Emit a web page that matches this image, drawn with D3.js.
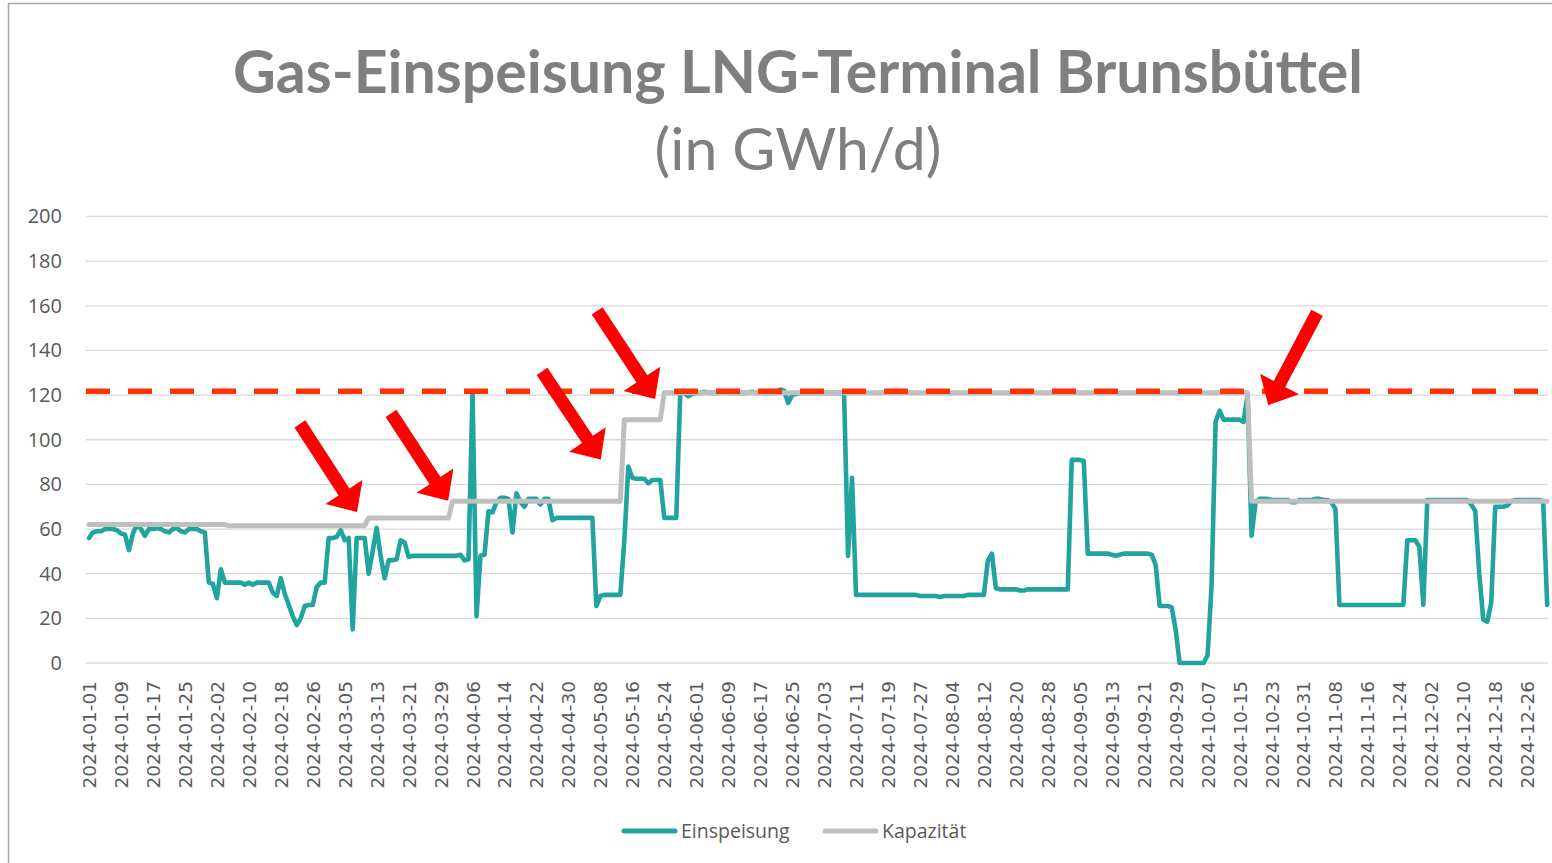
<!DOCTYPE html>
<html>
<head>
<meta charset="utf-8">
<script src="https://cdn.jsdelivr.net/npm/d3@7"></script>
<style>
  html, body { margin: 0; padding: 0; background: #fff; }
  svg { display: block; }
</style>
</head>
<body>
<svg id="chart" width="1552" height="863"></svg>
<script>
// ---------------- DATA ----------------
const startDate = "2024-01-01";
const endDate = "2025-01-01"; // exclusive
const titleText = "Gas-Einspeisung LNG-Terminal Brunsbüttel";
const subtitleText = "(in GWh/d)";
const seriesNames = ["Einspeisung", "Kapazität"];

const einspeisung = [
  56, 58.5, 59, 59, 60, 60, 60, 59.5, 58, 57.5,
  50.5, 58, 62, 60, 57, 60, 60, 60.5, 60, 59,
  58.5, 60, 60.5, 59, 58.5, 60, 60, 60, 59, 58.5,
  36, 35.5, 29, 42, 36, 36, 36, 36, 36, 35,
  36, 35, 36, 36, 36, 36, 31.5, 30, 38, 31,
  26, 21, 17, 20, 25.5, 26, 26, 34, 36, 36,
  56, 56, 56.5, 59.5, 55, 56, 15, 56, 56, 56,
  40, 50, 60.5, 48, 38, 46, 46, 46.5, 55, 54,
  47.5, 48, 48, 48, 48, 48, 48, 48, 48, 48,
  48, 48, 48, 48.5, 46, 46.5, 121, 21, 48, 48.5,
  68, 67.5, 72, 74, 74, 73.5, 58.5, 76, 72, 70,
  73.5, 73.5, 73.5, 71, 73.5, 73.5, 64, 65, 65, 65,
  65, 65, 65, 65, 65, 65, 65, 25.5, 30, 30.5,
  30.5, 30.5, 30.5, 30.5, 55, 88, 83, 82.5, 82.5, 82.5,
  80.5, 82, 82, 82, 65, 65, 65, 65, 121, 121,
  119.5, 120.5, 121, 121, 121.5, 121, 121, 121, 121, 121.5,
  121, 121, 121, 121, 121, 121, 121.5, 121, 121, 121,
  121, 121, 121, 122.5, 122, 116.5, 120, 120.5, 121, 121,
  121, 121, 121, 121, 121, 121, 121, 121, 121, 121,
  48, 83, 30.5, 30.5, 30.5, 30.5, 30.5, 30.5, 30.5, 30.5,
  30.5, 30.5, 30.5, 30.5, 30.5, 30.5, 30.5, 30.5, 30, 30,
  30, 30, 30, 29.5, 30, 30, 30, 30, 30, 30,
  30.5, 30.5, 30.5, 30.5, 30.5, 46, 49, 33.5, 33, 33,
  33, 33, 33, 32.5, 32.5, 33, 33, 33, 33, 33,
  33, 33, 33, 33, 33, 33, 91, 91, 91, 90.5,
  49, 49, 49, 49, 49, 49, 48.5, 48, 48.5, 49,
  49, 49, 49, 49, 49, 49, 48.5, 44, 25.5, 25.5,
  25.5, 25, 15, 0, 0, 0, 0, 0, 0, 0,
  3.5, 35, 108, 113, 109, 109, 109, 109, 109, 108,
  120, 57, 72, 73.5, 73.5, 73.5, 73, 73, 73, 73,
  73, 72, 72, 73, 73, 73, 73, 73.5, 73.5, 73,
  73, 72, 69, 26, 26, 26, 26, 26, 26, 26,
  26, 26, 26, 26, 26, 26, 26, 26, 26, 26,
  55, 55, 55, 52, 26, 73, 73, 73, 73, 73,
  73, 73, 73, 73, 73, 73, 71, 68, 40, 19.5,
  18.5, 27, 70, 70, 70, 70.5, 72.5, 73, 73, 73,
  73, 73, 73, 73, 72.5, 26
];

const kapazitaet = [
  62, 62, 62, 62, 62, 62, 62, 62, 62, 62,
  62, 62, 62, 62, 62, 62, 62, 62, 62, 62,
  62, 62, 62, 62, 62, 62, 62, 62, 62, 62,
  62, 62, 62, 62, 62, 61.5, 61.5, 61.5, 61.5, 61.5,
  61.5, 61.5, 61.5, 61.5, 61.5, 61.5, 61.5, 61.5, 61.5, 61.5,
  61.5, 61.5, 61.5, 61.5, 61.5, 61.5, 61.5, 61.5, 61.5, 61.5,
  61.5, 61.5, 61.5, 61.5, 61.5, 61.5, 61.5, 61.5, 61.5, 61.5,
  65, 65, 65, 65, 65, 65, 65, 65, 65, 65,
  65, 65, 65, 65, 65, 65, 65, 65, 65, 65,
  65, 72.5, 72.5, 72.5, 72.5, 72.5, 72.5, 72.5, 72.5, 72.5,
  72.5, 72.5, 72.5, 72.5, 72.5, 72.5, 72.5, 72.5, 72.5, 72.5,
  72.5, 72.5, 72.5, 72.5, 72.5, 72.5, 72.5, 72.5, 72.5, 72.5,
  72.5, 72.5, 72.5, 72.5, 72.5, 72.5, 72.5, 72.5, 72.5, 72.5,
  72.5, 72.5, 72.5, 72.5, 109, 109, 109, 109, 109, 109,
  109, 109, 109, 109, 121, 121, 121, 121, 121, 121,
  121, 121, 121, 121, 121, 121, 121, 121, 121, 121,
  121, 121, 121, 121, 121, 121, 121, 121, 121, 121,
  121, 121, 121, 121, 121, 121, 121, 121, 121, 121,
  121, 121, 121, 121, 121, 121, 121, 121, 121, 121,
  121, 121, 121, 121, 121, 121, 121, 121, 121, 121,
  121, 121, 121, 121, 121, 121, 121, 121, 121, 121,
  121, 121, 121, 121, 121, 121, 121, 121, 121, 121,
  121, 121, 121, 121, 121, 121, 121, 121, 121, 121,
  121, 121, 121, 121, 121, 121, 121, 121, 121, 121,
  121, 121, 121, 121, 121, 121, 121, 121, 121, 121,
  121, 121, 121, 121, 121, 121, 121, 121, 121, 121,
  121, 121, 121, 121, 121, 121, 121, 121, 121, 121,
  121, 121, 121, 121, 121, 121, 121, 121, 121, 121,
  121, 121, 121, 121, 121, 121, 121, 121, 121, 121,
  121, 72.5, 72.5, 72.5, 72.5, 72.5, 72.5, 72.5, 72.5, 72.5,
  72.5, 72.5, 72.5, 72.5, 72.5, 72.5, 72.5, 72.5, 72.5, 72.5,
  72.5, 72.5, 72.5, 72.5, 72.5, 72.5, 72.5, 72.5, 72.5, 72.5,
  72.5, 72.5, 72.5, 72.5, 72.5, 72.5, 72.5, 72.5, 72.5, 72.5,
  72.5, 72.5, 72.5, 72.5, 72.5, 72.5, 72.5, 72.5, 72.5, 72.5,
  72.5, 72.5, 72.5, 72.5, 72.5, 72.5, 72.5, 72.5, 72.5, 72.5,
  72.5, 72.5, 72.5, 72.5, 72.5, 72.5, 72.5, 72.5, 72.5, 72.5,
  72.5, 72.5, 72.5, 72.5, 72.5, 72.5
];

// reference (maximum capacity) line
const referenceValue = 121.7;

const yTicks = [0, 20, 40, 60, 80, 100, 120, 140, 160, 180, 200];
const xTickLabels = [
  "2024-01-01","2024-01-09","2024-01-17","2024-01-25","2024-02-02","2024-02-10",
  "2024-02-18","2024-02-26","2024-03-05","2024-03-13","2024-03-21","2024-03-29",
  "2024-04-06","2024-04-14","2024-04-22","2024-04-30","2024-05-08","2024-05-16",
  "2024-05-24","2024-06-01","2024-06-09","2024-06-17","2024-06-25","2024-07-03",
  "2024-07-11","2024-07-19","2024-07-27","2024-08-04","2024-08-12","2024-08-20",
  "2024-08-28","2024-09-05","2024-09-13","2024-09-21","2024-09-29","2024-10-07",
  "2024-10-15","2024-10-23","2024-10-31","2024-11-08","2024-11-16","2024-11-24",
  "2024-12-02","2024-12-10","2024-12-18","2024-12-26"
];

// annotation arrows (day index from start, value) tail -> tip
const arrowTailDay   = [52.8, 75.6, 113.4, 127.2, 307.4];
const arrowTailValue = [107.1, 111.8, 130.6, 157.7, 156.9];
const arrowTipDay    = [67.1, 89.9, 128.1, 141.7, 295.2];
const arrowTipValue  = [67.6, 72.7, 91.2, 118.3, 115.5];

// ---------------- CHART ----------------
const fmt = d3.timeFormat("%Y-%m-%d");
const categories = d3.timeDay.range(new Date(startDate + "T00:00:00"), new Date(endDate + "T00:00:00")).map(fmt);

const svg = d3.select("#chart");
const plotLeft = 86, plotRight = 1548;
const firstX = 89, lastX = 89 + 365 * 3.995;

const x = d3.scalePoint().domain(categories).range([firstX, lastX]);
const xDay = d3.scaleLinear().domain([0, categories.length - 1]).range([firstX, lastX]);
const y = d3.scaleLinear().domain([0, 200]).range([663, 216.5]);

// frame
svg.append("rect")
  .attr("x", 8.5).attr("y", 3.5).attr("width", 1700).attr("height", 1000)
  .attr("fill", "none").attr("stroke", "#a6a6a6").attr("stroke-width", 1.5);

// title
svg.append("text")
  .attr("x", 798).attr("y", 93)
  .attr("text-anchor", "middle")
  .attr("font-family", "Lato, 'Open Sans', sans-serif")
  .attr("font-weight", "bold")
  .attr("font-size", 59)
  .attr("fill", "#7f7f7f")
  .attr("textLength", 1130).attr("lengthAdjust", "spacingAndGlyphs")
  .text(titleText);
svg.append("text")
  .attr("x", 798).attr("y", 170)
  .attr("text-anchor", "middle")
  .attr("font-family", "Lato, 'Open Sans', sans-serif")
  .attr("font-size", 58)
  .attr("fill", "#7f7f7f")
  .attr("textLength", 287).attr("lengthAdjust", "spacingAndGlyphs")
  .text(subtitleText);

// gridlines
svg.append("g").selectAll("line").data(yTicks).join("line")
  .attr("x1", plotLeft).attr("x2", plotRight)
  .attr("y1", d => y(d)).attr("y2", d => y(d))
  .attr("stroke", "#d9d9d9").attr("stroke-width", 1.3);

// y axis labels
const yAxis = d3.axisLeft(y).tickValues(yTicks).tickSize(0).tickPadding(0).tickFormat(d3.format("d"));
const gy = svg.append("g").attr("transform", "translate(62,0)").call(yAxis);
gy.select(".domain").remove();
gy.selectAll("text")
  .attr("font-family", "'Open Sans', sans-serif")
  .attr("font-size", 20)
  .attr("fill", "#595959");

// x axis labels
const xAxis = d3.axisBottom(x).tickValues(xTickLabels).tickSize(0).tickPadding(0);
const gx = svg.append("g").attr("transform", "translate(0,681)").call(xAxis);
gx.select(".domain").remove();
gx.selectAll("text")
  .attr("font-family", "'DejaVu Sans', sans-serif")
  .attr("font-size", 18.5)
  .attr("fill", "#595959")
  .attr("transform", "rotate(-90)")
  .attr("text-anchor", "end")
  .attr("dy", "0.35em")
  .attr("x", 0).attr("y", 0);

// lines
const line = d3.line().x((d, i) => x(categories[i])).y(d => y(d));

svg.append("path")
  .datum(einspeisung)
  .attr("d", line)
  .attr("fill", "none")
  .attr("stroke", "#21a39f")
  .attr("stroke-width", 4.6)
  .attr("stroke-linejoin", "round")
  .attr("stroke-linecap", "round");

svg.append("path")
  .datum(kapazitaet)
  .attr("d", line)
  .attr("fill", "none")
  .attr("stroke", "#bfbfbf")
  .attr("stroke-width", 5)
  .attr("stroke-linejoin", "round")
  .attr("stroke-linecap", "round");

// reference dashed line
svg.append("line")
  .attr("x1", plotLeft).attr("x2", plotRight)
  .attr("y1", y(referenceValue)).attr("y2", y(referenceValue))
  .attr("stroke", "#ff3300").attr("stroke-width", 5.5)
  .attr("stroke-dasharray", "24 18");

// arrows
const shaftHalf = 6.5, headHalf = 22, headLen = 24;
arrowTipDay.forEach((td, i) => {
  const x0 = xDay(arrowTailDay[i]), y0 = y(arrowTailValue[i]);
  const x1 = xDay(td), y1 = y(arrowTipValue[i]);
  const dx = x1 - x0, dy = y1 - y0;
  const L = Math.hypot(dx, dy);
  const ux = dx / L, uy = dy / L;
  const px = -uy, py = ux;
  const bx = x1 - ux * headLen, by = y1 - uy * headLen;
  const pts = [
    [x0 + px * shaftHalf, y0 + py * shaftHalf],
    [bx + px * shaftHalf, by + py * shaftHalf],
    [bx + px * headHalf, by + py * headHalf],
    [x1, y1],
    [bx - px * headHalf, by - py * headHalf],
    [bx - px * shaftHalf, by - py * shaftHalf],
    [x0 - px * shaftHalf, y0 - py * shaftHalf]
  ];
  svg.append("polygon")
    .attr("points", pts.map(p => p.join(",")).join(" "))
    .attr("fill", "#ff0000");
});

// legend
const legendItems = [
  { name: seriesNames[0], color: "#21a39f", x: 622 },
  { name: seriesNames[1], color: "#bfbfbf", x: 823 }
];
const lg = svg.append("g");
legendItems.forEach(it => {
  lg.append("line")
    .attr("x1", it.x + 2).attr("x2", it.x + 53)
    .attr("y1", 831).attr("y2", 831)
    .attr("stroke", it.color).attr("stroke-width", 5)
    .attr("stroke-linecap", "round");
  lg.append("text")
    .attr("x", it.x + 59).attr("y", 831)
    .attr("dy", "0.35em")
    .attr("font-family", "'Open Sans', sans-serif")
    .attr("font-size", 19.5)
    .attr("fill", "#595959")
    .text(it.name);
});
</script>
</body>
</html>
